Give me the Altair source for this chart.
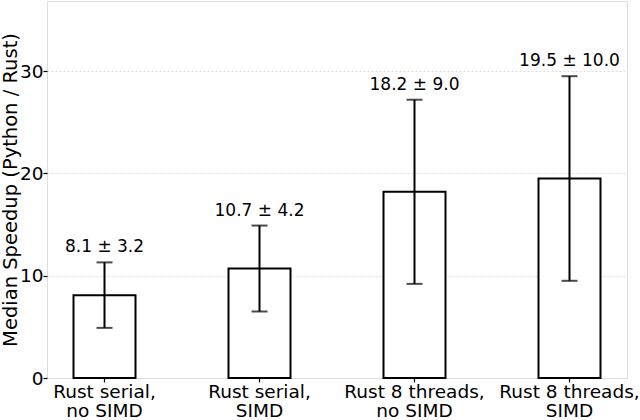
import altair as alt
import pandas as pd

categories = ["Rust serial,|no SIMD", "Rust serial,|SIMD", "Rust 8 threads,|no SIMD", "Rust 8 threads,|SIMD"]
medians = [8.1, 10.7, 18.2, 19.5]
errors = [3.2, 4.2, 9.0, 10.0]

df = pd.DataFrame({
    "cat": categories,
    "median": medians,
    "err": errors,
})
df["lo"] = df["median"] - df["err"]
df["hi"] = df["median"] + df["err"]
df["label"] = [f"{m:.1f} ± {e:.1f}" for m, e in zip(medians, errors)]

FONT = "DejaVu Sans"

x = alt.X("cat:N", sort=categories,
          scale=alt.Scale(paddingInner=0.6, paddingOuter=0.171),
          axis=alt.Axis(title=None, labelExpr="split(datum.label, '|')",
                        labelAngle=0, labelFontSize=18.5, labelFont=FONT, labelColor="black",
                        labelPadding=0, tickColor="black", tickSize=4, tickWidth=1.2, domain=False,
                        grid=False, labelLineHeight=19))
yscale = alt.Scale(domain=[0, 36.85], nice=False, zero=True)

bars = alt.Chart(df).mark_bar(fill="white", stroke="black", strokeWidth=2).encode(
    x=x,
    y=alt.Y("median:Q", scale=yscale,
            axis=alt.Axis(title="Median Speedup (Python / Rust)", values=[0, 10, 20, 30],
                          labelFontSize=18.5, labelFont=FONT, labelColor="black",
                          titleFontSize=19.5, titleFont=FONT, titleFontWeight="normal",
                          titleColor="black", titlePadding=-1,
                          tickColor="black", tickSize=4, tickWidth=1.2, domain=False,
                          grid=True, gridColor="#dddddd", gridDash=[2, 2], gridWidth=1,
                          labelPadding=0)),
)

rules = alt.Chart(df).mark_rule(color="black", strokeWidth=2).encode(
    x=alt.X("cat:N", sort=categories),
    y="lo:Q",
    y2="hi:Q",
)

caps_hi = alt.Chart(df).mark_tick(color="black", thickness=2, size=16).encode(
    x=alt.X("cat:N", sort=categories),
    y="hi:Q",
)
caps_lo = alt.Chart(df).mark_tick(color="black", thickness=2, size=16).encode(
    x=alt.X("cat:N", sort=categories),
    y="lo:Q",
)

labels = alt.Chart(df).mark_text(baseline="bottom", dy=-6, fontSize=17, font=FONT, color="black").encode(
    x=alt.X("cat:N", sort=categories),
    y="hi:Q",
    text="label:N",
)

chart = alt.layer(bars, rules, caps_hi, caps_lo, labels).properties(
    width=580, height=377,
    autosize=alt.AutoSizeParams(type="none"),
    padding={"left": 47, "top": 1, "right": 13, "bottom": 42},
).configure_view(stroke="black", strokeWidth=1.3).configure(background="white")

chart.save("out.html", embed_options={"renderer": "svg", "actions": False})
